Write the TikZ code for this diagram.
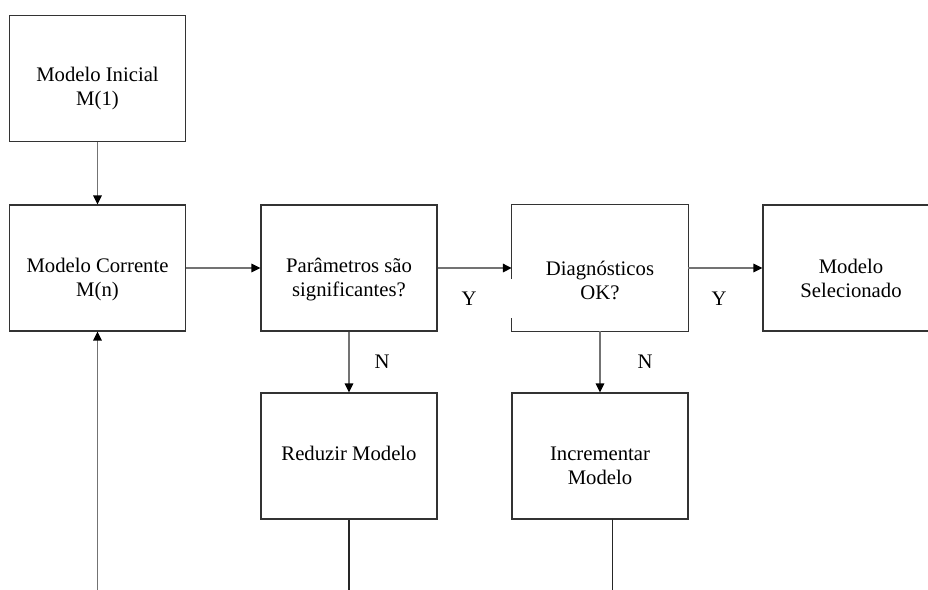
\documentclass[tikz,border=0pt]{standalone}
\usepackage{fontspec}
\setmainfont{Liberation Serif}
\usetikzlibrary{arrows.meta}
\begin{document}
\begin{tikzpicture}[x=1pt,y=-1pt,
  box/.style={draw=black!80,line width=1.2pt,minimum width=176pt,minimum height=126pt,inner sep=0pt},
  nobox/.style={minimum width=176pt,minimum height=126pt,inner sep=0pt},
  txt/.style={align=center,font=\fontsize{20.7}{24}\selectfont,inner sep=0pt},
  lbl/.style={font=\fontsize{20.7}{24}\selectfont,inner sep=0pt},
  conn/.style={draw=black!55,line width=1.6pt},
  arr/.style={conn,-{Triangle[length=9pt,width=8.5pt,color=black,fill=black]}}]
\useasboundingbox (0,0) rectangle (928,589);
\clip (0,0) rectangle (928,589);
% boxes
\node[box] (inicial) at (97.5,78.5) {};
\node[box] (corrente) at (97.5,268) {};
\node[box] (param) at (349,268) {};
\node[nobox] (diag) at (600,268) {};
\node[box] (sel) at (851,268) {};
\node[box] (reduzir) at (349,456) {};
\node[box] (incr) at (600,456) {};
% Diagnosticos border with gap on the left side
\draw[draw=black!80,line width=1.2pt] ([yshift=-11pt]diag.west) -- (diag.north west) -- (diag.north east) -- (diag.south east) -- (diag.south west) -- ([yshift=-50pt]diag.west);
% texts
\node[txt] (tinicial) at (97.5,89) {Modelo Inicial\\M(1)};
\node[txt] (tcorrente) at (97.5,280) {Modelo Corrente\\M(n)};
\node[txt] (tparam) at (349,280) {Parâmetros são\\significantes?};
\node[txt] (tdiag) at (600,280) {Diagnósticos\\OK?};
\node[txt] (tsel) at (851,278) {Modelo\\Selecionado};
\node[txt] (tred) at (349,453) {Reduzir Modelo};
\node[txt] (tincr) at (600,466) {Incrementar\\Modelo};
% labels
\node[lbl] (y1) at (469,299) {Y};
\node[lbl] (y2) at (719,299) {Y};
\node[lbl] (n1) at (382,362) {N};
\node[lbl] (n2) at (645,362) {N};
% connectors
\draw[arr] (inicial.south) -- (corrente.north);
\draw[arr] (corrente.east) -- (param.west);
\draw[arr] (param.east) -- (diag.west);
\draw[arr] (diag.east) -- (sel.west);
\draw[arr] (param.south) -- (reduzir.north);
\draw[arr] (diag.south) -- (incr.north);
\coordinate (redend) at (349,590);
\coordinate (incrout) at (612.7,519);
\coordinate (incrend) at (612.7,590);
\coordinate (loopstart) at (97.5,590);
\draw[draw=black!85,line width=1.2pt] (reduzir.south) -- (redend);
\draw[draw=black!85,line width=1.2pt] (incrout) -- (incrend);
\draw[arr] (loopstart) -- (corrente.south);
\end{tikzpicture}
\end{document}
